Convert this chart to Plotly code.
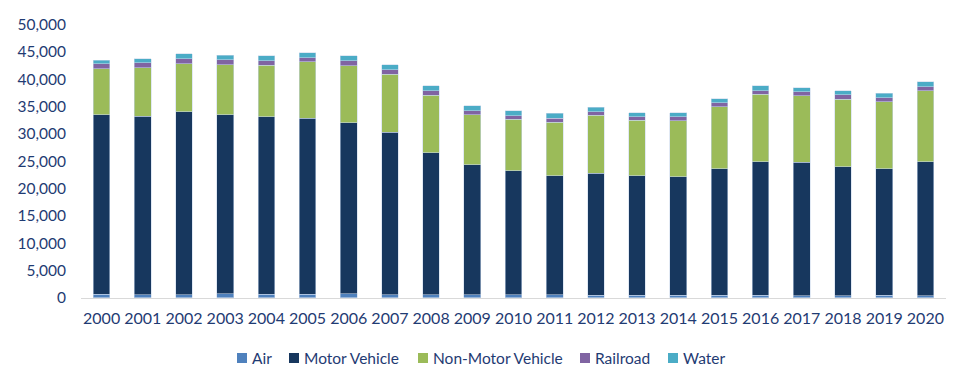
import plotly.graph_objects as go

years = [str(y) for y in range(2000, 2021)]
air = [600, 580, 560, 700, 600, 600, 700, 550, 550, 550, 500, 500, 450, 430, 420, 410, 430, 400, 400, 420, 400]
motor_vehicle = [32860, 32640, 33510, 32760, 32500, 32250, 31350, 29740, 26010, 23750, 22700, 21840,
                 22330, 21860, 21680, 23220, 24480, 24400, 23590, 23210, 24510]
non_motor_vehicle = [8430, 8850, 8790, 9210, 9460, 10320, 10440, 10620, 10500, 9220, 9470, 9780,
                     10620, 10200, 10260, 11300, 12340, 12140, 12340, 12210, 13010]
railroad = [970, 920, 910, 860, 850, 790, 920, 850, 800, 730, 660, 740, 670, 660, 740, 780, 670, 800, 800, 790, 730]
water = [620, 730, 920, 870, 860, 910, 920, 860, 910, 860, 920, 910, 800, 730, 730, 740, 850, 730, 730, 800, 850]

series = [
    ("Air", air, "#4F81BD"),
    ("Motor Vehicle", motor_vehicle, "#17375E"),
    ("Non-Motor Vehicle", non_motor_vehicle, "#9BBB59"),
    ("Railroad", railroad, "#8064A2"),
    ("Water", water, "#4BACC6"),
]

W, H = 953, 381
ML, MR = 81, 7
PW = W - ML - MR
text_color = "#1F3B73"
font_family = "Lato, 'Open Sans', sans-serif"

fig = go.Figure()
for name, vals, color in series:
    fig.add_trace(go.Bar(
        x=years, y=vals, name=name,
        marker=dict(color=color, line=dict(color="rgba(200,215,235,0.9)", width=0.6)),
    ))

# Manual legend (square swatch + label), laid out like the reference
legend_x = [237, 289, 418, 580, 668]   # swatch left edges in px
legend_y = 358                          # vertical centre in px
sw = 10


def px_x(p):
    return (p - ML) / PW


for (name, _, color), lx in zip(series, legend_x):
    fig.add_shape(type="rect", xref="paper", yref="paper",
                  x0=px_x(lx), x1=px_x(lx + sw),
                  y0=1 - (legend_y + sw / 2) / H, y1=1 - (legend_y - sw / 2) / H,
                  fillcolor=color, line=dict(width=0))
    fig.add_annotation(text=name, xref="paper", yref="paper",
                       x=px_x(lx + sw + 3), y=1 - legend_y / H,
                       xanchor="left", yanchor="middle", showarrow=False,
                       font=dict(family=font_family, size=15.5, color=text_color))

fig.update_layout(
    barmode="stack",
    bargap=0.595,
    width=W, height=H,
    margin=dict(l=ML, r=MR, t=0, b=0),
    plot_bgcolor="white", paper_bgcolor="white",
    font=dict(family=font_family, size=15, color=text_color),
    showlegend=False,
    xaxis=dict(showgrid=False, showline=True, linecolor="#D9D9D9", linewidth=1,
               ticks="", automargin=False, ticklabelstandoff=6,
               tickfont=dict(size=16, color=text_color)),
    yaxis=dict(range=[0, 50000], dtick=5000, tickformat=",d", showgrid=False,
               showline=False, zeroline=False, ticks="", automargin=False,
               ticklabelstandoff=14,
               domain=[(H - 297.7) / H, (H - 24.6) / H],
               tickfont=dict(size=15.5, color=text_color)),
)

fig.write_html("out.html", config={"displayModeBar": False},
               post_script="document.body.style.margin='0';document.body.style.overflow='hidden';")
